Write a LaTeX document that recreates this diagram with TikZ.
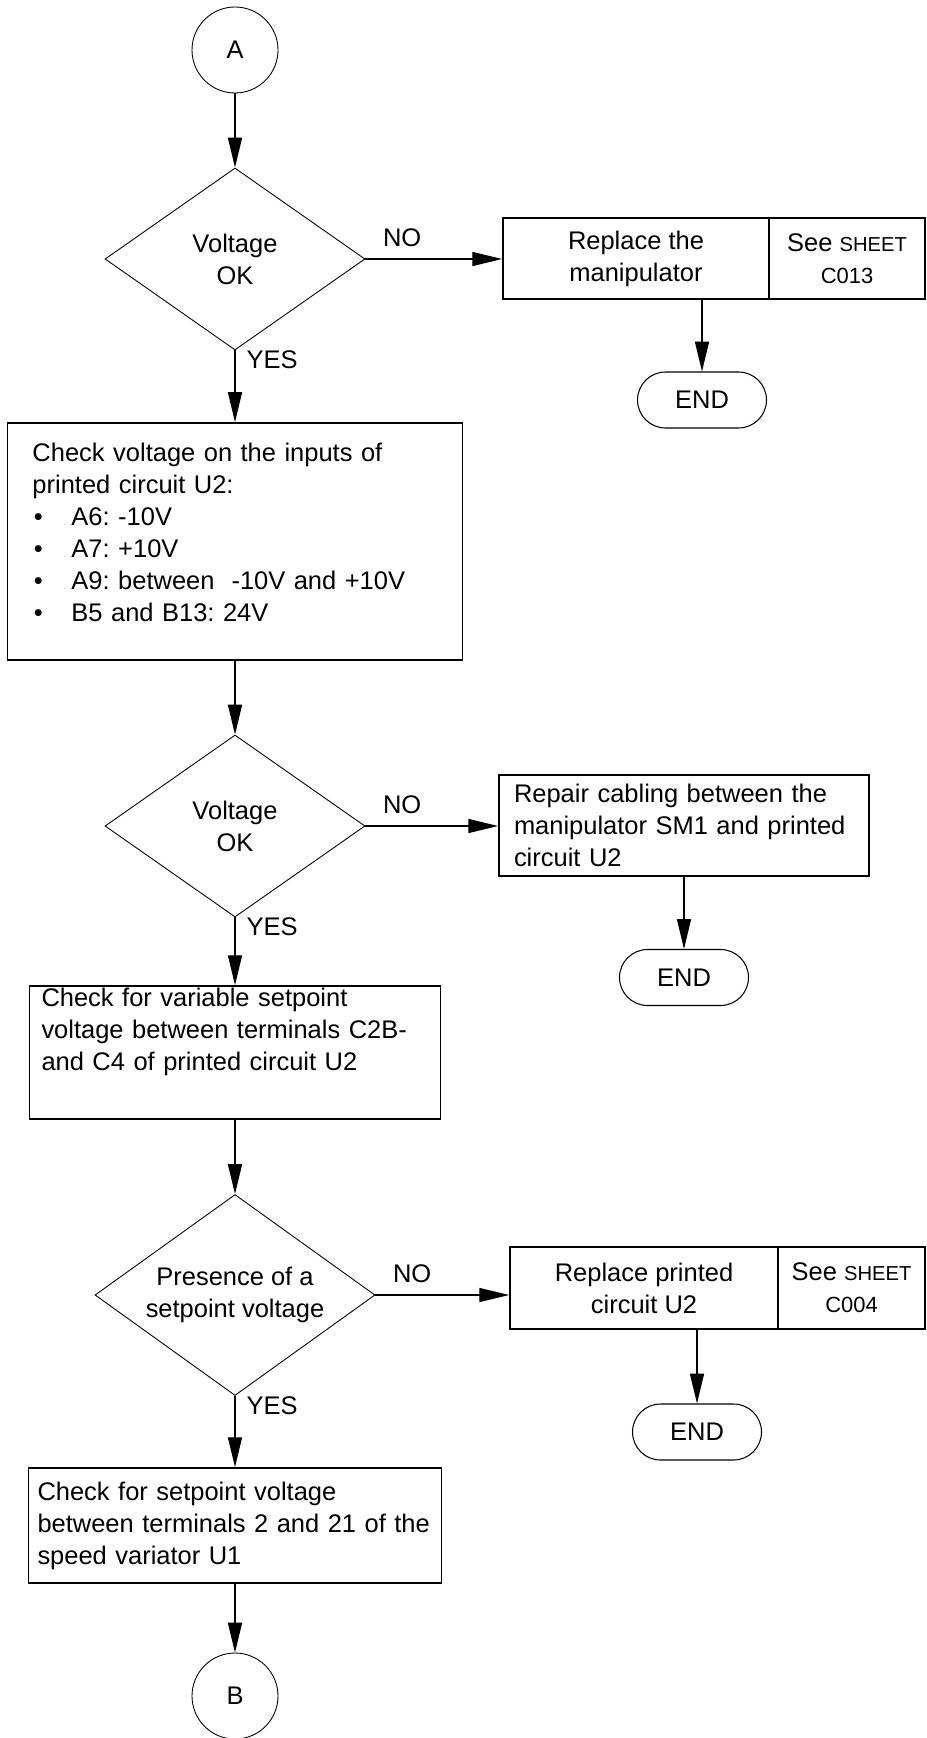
\documentclass[tikz,border=0pt]{standalone}
\usepackage{fontspec}
\setmainfont{Liberation Sans}
\usepackage{tikz}
\usetikzlibrary{positioning,arrows.meta,shapes.geometric}
\frenchspacing
\newcommand{\blt}{\makebox[0.78cm][l]{\hspace{0.03cm}\textbullet}}
\newcommand{\sheetword}{{\fontsize{11.5}{18.2}\selectfont SHEET}}

\begin{document}
\begin{tikzpicture}[
  conn/.style   = {circle, draw, line width=0.5pt, minimum size=1.72cm,
                   inner sep=0pt, font=\fontsize{14.5}{18.2}\selectfont},
  cond/.style   = {diamond, draw, line width=0.5pt, shape aspect=1.4,
                   inner sep=0pt, align=center,
                   font=\fontsize{14.5}{18.2}\selectfont},
  act/.style    = {rectangle, draw, line width=1pt, align=left, inner ysep=0pt,
                   font=\fontsize{14.5}{18.2}\selectfont},
  repl/.style   = {rectangle, draw, line width=1pt, align=center,
                   minimum height=1.62cm, inner sep=0pt,
                   font=\fontsize{14.5}{18.2}\selectfont},
  endbox/.style = {rectangle, rounded corners=0.56cm, draw, line width=0.6pt,
                   minimum width=2.58cm, minimum height=1.12cm,
                   font=\fontsize{14.5}{18.2}\selectfont},
  lbl/.style    = {inner sep=0pt, font=\fontsize{14.5}{18.2}\selectfont},
  arr/.style    = {-{Triangle[length=17pt, width=8pt]}, line width=0.7pt},
]
\useasboundingbox (0,0) rectangle (18.52,-34.76);
\node[conn] (a)     at (4.70, -1.00) {A};
\node[cond, minimum width=5.2cm, minimum height=3.64cm]
             (volt1) at (4.70, -5.18) {Voltage\\OK};
\node[act, text width=8.10cm, inner xsep=0.5cm, minimum height=4.74cm,
      text depth=3.56cm]
             (chkin) at (4.70, -10.83) {Check voltage on the inputs of\\
                                        printed circuit U2:\\
                                        \blt A6: -10V\\
                                        \blt A7: +10V\\
                                        \blt A9: between~ -10V and +10V\\
                                        \blt B5 and B13: 24V};
\node[cond, minimum width=5.2cm, minimum height=3.64cm]
             (volt2) at (4.70, -16.52) {Voltage\\OK};
\node[act, text width=7.74cm, inner xsep=0.24cm, minimum height=2.66cm,
      text depth=2.20cm]
             (chkvar) at (4.70, -21.05) {Check for variable setpoint\\
                                         voltage between terminals C2B-\\
                                         and C4 of printed circuit U2};
\node[cond, minimum width=5.6cm, minimum height=4.02cm]
             (pres)  at (4.70, -25.90) {Presence of a\\setpoint voltage};
\node[act, text width=7.90cm, inner xsep=0.18cm, minimum height=2.30cm]
             (chkset) at (4.70, -30.51) {Check for setpoint voltage\\
                                         \mbox{between terminals 2 and 21 of the}\\
                                         speed variator U1};
\node[conn] (b)     at (4.70, -33.92) {B};
% exit nodes
\node[repl, minimum width=5.32cm] (repman) at (12.72, -5.17) {Replace the\\manipulator};
\node[repl, minimum width=3.12cm] (sheet1) at (16.94, -5.17) {See \sheetword\\
                                       {\fontsize{12.5}{18.2}\selectfont C013}};
\node[endbox] (end1) at (14.04, -8.00) {END};
\node[act, text width=6.80cm, inner xsep=0.3cm, minimum height=2.02cm]
              (repcab) at (13.68, -16.51) {Repair cabling between the\\
                                           manipulator SM1 and printed\\
                                           circuit U2};
\node[endbox] (end2) at (13.68, -19.55) {END};
\node[repl, minimum width=5.36cm, minimum height=1.64cm]
              (repu2)  at (12.88, -25.76) {Replace printed\\circuit U2};
\node[repl, minimum width=2.94cm, minimum height=1.64cm]
              (sheet2) at (17.03, -25.76) {See \sheetword\\
                                       {\fontsize{12.5}{18.2}\selectfont C004}};
\node[endbox] (end3) at (13.94, -28.64) {END};
% main arrows
\draw[arr] (a)      -- (volt1);
\draw[arr] (volt1.south) -- node[lbl, pos=0, anchor=north west, xshift=0.22cm]{YES} (chkin.north);
\draw[arr] (chkin.south) -- (volt2.north);
\draw[arr] (volt2.south) -- node[lbl, pos=0, anchor=north west, xshift=0.22cm]{YES} (chkvar.north);
\draw[arr] (chkvar.south) -- (pres.north);
\draw[arr] (pres.south)  -- node[lbl, pos=0, anchor=north west, xshift=0.22cm]{YES} (chkset.north);
\draw[arr] (chkset.south) -- (b.north);
% exit arrows
\draw[arr] (volt1.east) -- node[lbl, pos=0, anchor=south west, xshift=0.34cm, yshift=0.23cm]{NO}
           (volt1.east -| repman.west);
\draw[arr] (end1.north |- repman.south) -- (end1.north);
\draw[arr] (volt2.east) -- node[lbl, pos=0, anchor=south west, xshift=0.34cm, yshift=0.23cm]{NO}
           (volt2.east -| repcab.west);
\draw[arr] (repcab.south) -- (end2.north);
\draw[arr] (pres.east)  -- node[lbl, pos=0, anchor=south west, xshift=0.34cm, yshift=0.23cm]{NO}
           (pres.east -| repu2.west);
\draw[arr] (end3.north |- repu2.south) -- (end3.north);
\end{tikzpicture}
\end{document}
